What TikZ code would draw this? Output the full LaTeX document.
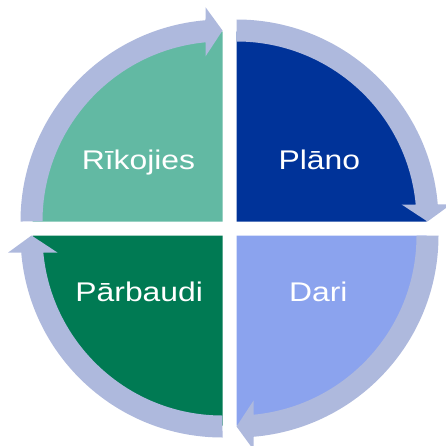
\documentclass[tikz,border=0pt]{standalone}
\usepackage{fontspec}
\newfontfamily\labfont[FakeStretch=1.18]{Liberation Sans}
\definecolor{bandc}{RGB}{174,185,221}
\definecolor{cPlan}{RGB}{0,51,153}
\definecolor{cDo}{RGB}{139,163,238}
\definecolor{cCheck}{RGB}{0,122,83}
\definecolor{cAct}{RGB}{98,185,163}
\begin{document}
\begin{tikzpicture}[x=1pt,y=1pt,
  lab/.style={text=white,inner sep=0pt,anchor=base,font=\labfont\fontsize{27}{30}\selectfont}]
\useasboundingbox (0,0) rectangle (446,445);
% quadrant pies
\foreach \cx/\cy/\rot/\col in {236.5/223.5/0/cPlan, 222.5/223.5/90/cAct, 222.5/209.5/180/cCheck, 236.5/209.5/270/cDo} {
  \begin{scope}[shift={(\cx,\cy)},rotate=\rot]
    \fill[\col] (0,0) -- (0,190) arc[start angle=90,end angle=0,radius=190] -- cycle;
  \end{scope}
}
% circular arrow bands
\foreach \cx/\cy/\rot in {236.5/223.5/0, 222.5/223.5/90, 222.5/209.5/180, 236.5/209.5/270} {
  \begin{scope}[shift={(\cx,\cy)},rotate=\rot]
    \fill[bandc] (0,202) arc[start angle=90,end angle=4.83,radius=202]
      -- (214.3,17) -- (191,0) -- (165.1,17) -- (179.2,17)
      arc[start angle=5.42,end angle=90,radius=180] -- cycle;
  \end{scope}
}
\node[lab] (act) at (138.5,275.5) {Rīkojies};
\node[lab] (plan) at (319.3,275.7) {Plāno};
\node[lab] (check) at (139.2,144) {Pārbaudi};
\node[lab] (do) at (318.3,144) {Dari};
\end{tikzpicture}
\end{document}
